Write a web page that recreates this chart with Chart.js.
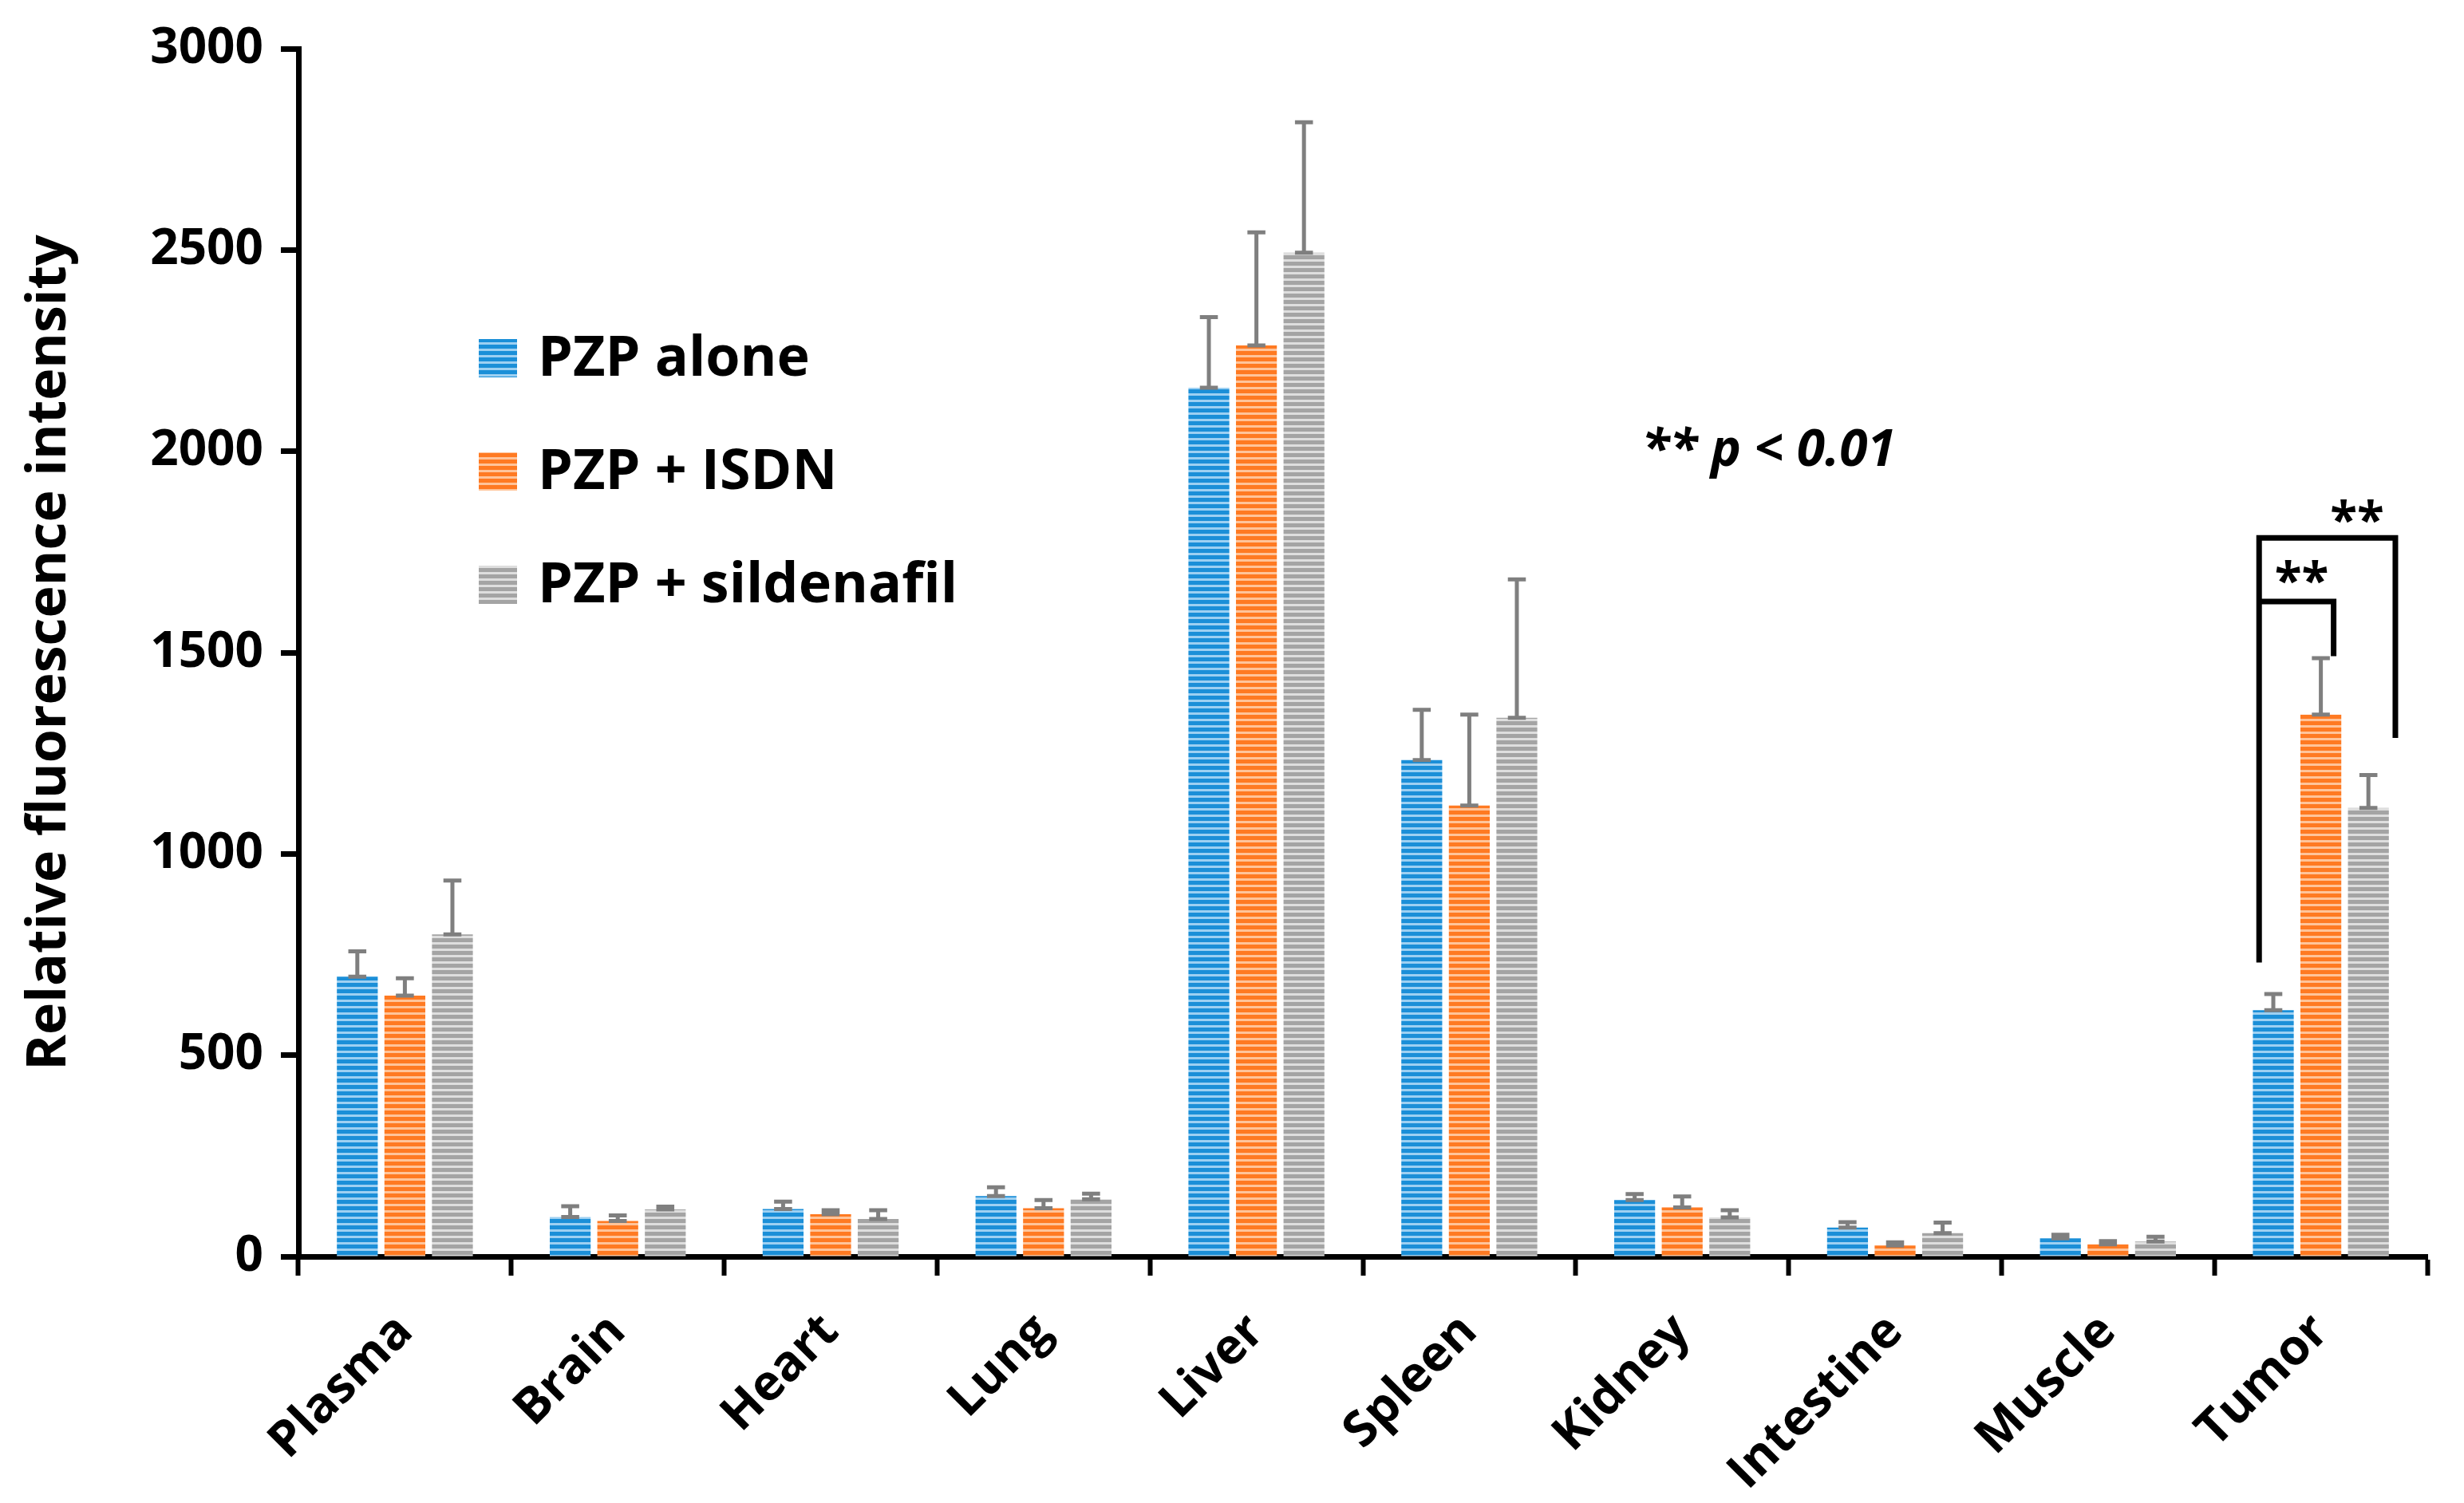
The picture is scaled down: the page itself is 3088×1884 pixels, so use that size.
<!DOCTYPE html>
<html>
<head>
<meta charset="utf-8">
<script src="https://cdn.jsdelivr.net/npm/chart.js@4.4.1/dist/chart.umd.min.js"></script>
<style>
  html, body { margin: 0; padding: 0; background: #fff; }
  #wrap { width: 3088px; height: 1884px; }
</style>
</head>
<body>
<div id="wrap"><canvas id="chart" width="3088" height="1884"></canvas></div>
<script>
// Data
const organs = ['Plasma', 'Brain', 'Heart', 'Lung', 'Liver', 'Spleen', 'Kidney', 'Intestine', 'Muscle', 'Tumor'];
const seriesNames = ['PZP alone', 'PZP + ISDN', 'PZP + sildenafil'];
const pzpAlone = [695, 98, 118, 150, 2158, 1233, 140, 72, 45, 612];
const pzpAloneSd = [63, 27, 18, 22, 175, 125, 15, 13, 9, 40];
const pzpIsdn = [648, 88, 105, 120, 2263, 1120, 122, 27, 30, 1346];
const pzpIsdnSd = [43, 14, 10, 20, 281, 226, 27, 8, 8, 140];
const pzpSildenafil = [800, 117, 93, 142, 2493, 1338, 97, 58, 37, 1114];
const pzpSildenafilSd = [134, 7, 22, 14, 324, 344, 18, 26, 12, 82];
const yTicks = [0, 500, 1000, 1500, 2000, 2500, 3000];

const FONT = "'Open Sans', 'Liberation Sans', sans-serif";
const canvas = document.getElementById('chart');
const ctx = canvas.getContext('2d');

// Horizontal stripe fill like the original bars
function stripes(dark, light) {
  const c = document.createElement('canvas');
  c.width = 8; c.height = 8;
  const g = c.getContext('2d');
  g.fillStyle = light;
  g.fillRect(0, 0, 8, 8);
  g.fillStyle = dark;
  g.fillRect(0, 0, 8, 5);
  return ctx.createPattern(c, 'repeat');
}

const fills = [
  stripes('#1b8fd8', '#9dd0f2'),
  stripes('#ff7a22', '#ffc49a'),
  stripes('#a4a4a4', '#dedede')
];
const errors = [pzpAloneSd, pzpIsdnSd, pzpSildenafilSd];

// Error bars (upper only, caps on both ends)
const errorBars = {
  id: 'errorBars',
  afterDatasetsDraw(chart) {
    const y = chart.scales.y;
    const g = chart.ctx;
    g.save();
    g.strokeStyle = '#7f7f7f';
    g.lineWidth = 5;
    chart.data.datasets.forEach((ds, i) => {
      const meta = chart.getDatasetMeta(i);
      meta.data.forEach((bar, j) => {
        const top = y.getPixelForValue(ds.data[j] + errors[i][j]);
        const cap = bar.width * 0.22;
        g.beginPath();
        g.moveTo(bar.x, bar.y);
        g.lineTo(bar.x, top);
        g.moveTo(bar.x - cap, top);
        g.lineTo(bar.x + cap, top);
        g.moveTo(bar.x - cap, bar.y);
        g.lineTo(bar.x + cap, bar.y);
        g.stroke();
      });
    });
    g.restore();
  }
};

// Legend inside the plot
const insideLegend = {
  id: 'insideLegend',
  afterDraw(chart) {
    const g = chart.ctx;
    const left = chart.chartArea.left + 226;
    const rows = [449, 591, 733];
    g.save();
    g.font = 'bold 70px ' + FONT;
    g.textBaseline = 'middle';
    seriesNames.forEach((name, i) => {
      g.fillStyle = fills[i];
      g.fillRect(left, rows[i] - 24, 48, 48);
      g.fillStyle = '#000';
      g.fillText(name, left + 74, rows[i] + 2);
    });
    g.restore();
  }
};

// Significance brackets and note
const significance = {
  id: 'significance',
  afterDraw(chart) {
    const x = chart.scales.x;
    const y = chart.scales.y;
    const g = chart.ctx;
    g.save();
    g.strokeStyle = '#000';
    g.lineWidth = 7;
    g.lineJoin = 'miter';
    // outer bracket: tumor PZP alone vs sildenafil
    g.beginPath();
    g.moveTo(x.getPixelForValue(8.71), y.getPixelForValue(730));
    g.lineTo(x.getPixelForValue(8.71), y.getPixelForValue(1785));
    g.lineTo(x.getPixelForValue(9.35), y.getPixelForValue(1785));
    g.lineTo(x.getPixelForValue(9.35), y.getPixelForValue(1288));
    g.stroke();
    // inner bracket: tumor PZP alone vs ISDN
    g.beginPath();
    g.moveTo(x.getPixelForValue(8.71), y.getPixelForValue(1627));
    g.lineTo(x.getPixelForValue(9.06), y.getPixelForValue(1627));
    g.lineTo(x.getPixelForValue(9.06), y.getPixelForValue(1491));
    g.stroke();

    g.fillStyle = '#000';
    g.font = 'bold 62px ' + FONT;
    g.textAlign = 'center';
    g.textBaseline = 'middle';
    g.fillText('**', x.getPixelForValue(8.91), y.getPixelForValue(1670));
    g.fillText('**', x.getPixelForValue(9.17), y.getPixelForValue(1820));

    g.font = 'italic bold 64px ' + FONT;
    g.textAlign = 'left';
    g.fillText('** p < 0.01', x.getPixelForValue(5.81), y.getPixelForValue(2000));
    g.restore();
  }
};

new Chart(ctx, {
  type: 'bar',
  data: {
    labels: organs,
    datasets: [
      { label: seriesNames[0], data: pzpAlone, backgroundColor: fills[0] },
      { label: seriesNames[1], data: pzpIsdn, backgroundColor: fills[1] },
      { label: seriesNames[2], data: pzpSildenafil, backgroundColor: fills[2] }
    ]
  },
  options: {
    responsive: false,
    devicePixelRatio: 1,
    animation: false,
    categoryPercentage: 0.67,
    barPercentage: 0.86,
    layout: { padding: { top: 61, right: 46, left: 0, bottom: 0 } },
    plugins: {
      legend: { display: false },
      tooltip: { enabled: false }
    },
    scales: {
      x: {
        grid: {
          offset: true,
          drawOnChartArea: false,
          tickLength: 24,
          tickWidth: 6,
          color: '#000'
        },
        border: { color: '#000', width: 7 },
        ticks: {
          autoSkip: false,
          maxRotation: 45,
          minRotation: 45,
          padding: 34,
          color: '#000',
          font: { family: FONT, size: 62, weight: 'bold' }
        },
        afterFit(scale) { scale.height = 309; }
      },
      y: {
        min: 0,
        max: 3000,
        afterBuildTicks(scale) { scale.ticks = yTicks.map(v => ({ value: v })); },
        grid: {
          drawOnChartArea: false,
          tickLength: 22,
          tickWidth: 7,
          color: '#000'
        },
        border: { color: '#000', width: 7 },
        ticks: {
          padding: 22,
          color: '#000',
          callback: v => String(v),
          font: { family: FONT, size: 62, weight: 'bold' }
        },
        title: {
          display: true,
          text: 'Relative fluorescence intensity',
          color: '#000',
          padding: { top: 22, bottom: 0 },
          font: { family: FONT, size: 68, weight: 'bold' }
        },
        afterFit(scale) { scale.width = 374; }
      }
    }
  },
  plugins: [errorBars, insideLegend, significance]
});
</script>
</body>
</html>
